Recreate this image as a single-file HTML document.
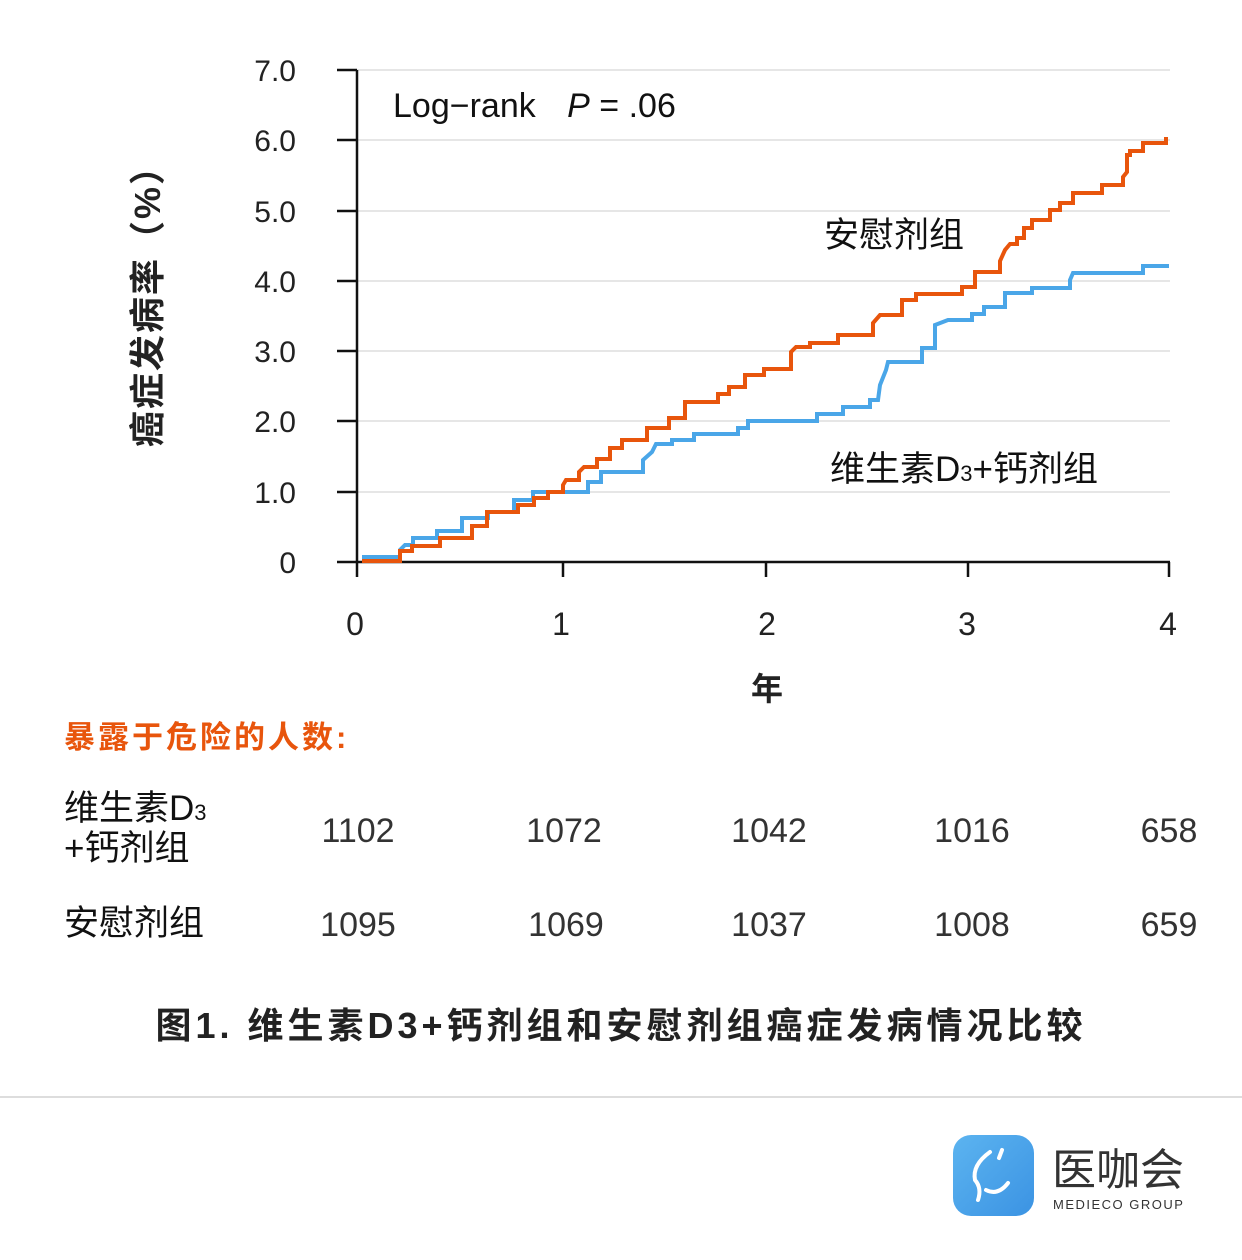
<!DOCTYPE html>
<html><head><meta charset="utf-8"><style>
html,body{margin:0;padding:0;background:#fff;width:1242px;height:1260px;overflow:hidden}
svg text{font-family:"Liberation Sans","Noto Sans CJK SC",sans-serif}
</style></head><body>
<svg width="1242" height="1260" viewBox="0 0 1242 1260" xmlns="http://www.w3.org/2000/svg">
<g stroke="#e6e6e6" stroke-width="2">
<line x1="357" y1="70" x2="1170" y2="70"/><line x1="357" y1="140" x2="1170" y2="140"/>
<line x1="357" y1="211" x2="1170" y2="211"/><line x1="357" y1="281" x2="1170" y2="281"/>
<line x1="357" y1="351" x2="1170" y2="351"/><line x1="357" y1="421" x2="1170" y2="421"/>
<line x1="357" y1="492" x2="1170" y2="492"/>
</g>
<g stroke="#111" stroke-width="2.5" fill="none">
<line x1="357" y1="70" x2="357" y2="577"/>
<line x1="337" y1="562" x2="1170" y2="562"/>
<line x1="337" y1="70" x2="357" y2="70"/><line x1="337" y1="140" x2="357" y2="140"/>
<line x1="337" y1="211" x2="357" y2="211"/><line x1="337" y1="281" x2="357" y2="281"/>
<line x1="337" y1="351" x2="357" y2="351"/><line x1="337" y1="421" x2="357" y2="421"/>
<line x1="337" y1="492" x2="357" y2="492"/>
<line x1="563" y1="562" x2="563" y2="577"/><line x1="766" y1="562" x2="766" y2="577"/>
<line x1="968" y1="562" x2="968" y2="577"/><line x1="1169" y1="562" x2="1169" y2="577"/>
</g>
<g font-size="30" fill="#222" text-anchor="end">
<text x="296" y="81">7.0</text><text x="296" y="151">6.0</text><text x="296" y="222">5.0</text>
<text x="296" y="292">4.0</text><text x="296" y="362">3.0</text><text x="296" y="432">2.0</text>
<text x="296" y="503">1.0</text><text x="296" y="573">0</text>
</g>
<g font-size="32" fill="#222" text-anchor="middle">
<text x="355" y="635">0</text><text x="561" y="635">1</text><text x="767" y="635">2</text>
<text x="967" y="635">3</text><text x="1168" y="635">4</text>
</g>
<text x="767" y="700" font-size="32" font-weight="bold" text-anchor="middle" fill="#222">年</text>
<text transform="translate(160,297) rotate(-90)" font-size="36" font-weight="bold" text-anchor="middle" fill="#222" letter-spacing="2">癌症发病率（%）</text>
<text x="393" y="117" font-size="34" fill="#111">Log−rank <tspan dx="22" font-style="italic">P</tspan> = .06</text>
<text x="824" y="247" font-size="35" fill="#111">安慰剂组</text>
<text x="830" y="481" font-size="35" fill="#111">维生素D<tspan font-size="22">3</tspan>+钙剂组</text>
<path fill="none" stroke="#4aa6e8" stroke-width="4" d="M362 557H400V550L405 545H413V538H437V531H462V518H488V512H514V500H533V492H588V482H601V472H643V460L652 452L656 444H672V440H694V434H738V428H748V421H817V414H843V407H870V400H878L880 385L886 370L888 362H922V348H935V325L948 320H972V314H984V307H1005V293H1032V288H1070V280L1073 273H1143V266H1169"/>
<path fill="none" stroke="#e8550c" stroke-width="4" d="M362 561H400V551H412V546H440V538H472V526H487V512H518V505H534V498H548V492H563V485L566 480H579V472L584 467H597V459H610V448H622V440H647V428H669V418H685V402H718V394H729V387H745V375H764V369H791V352L796 347H810V343H838V335H873V323L880 315H902V300H916V294H962V287H975V272H1000V261L1005 250L1010 244H1017V238H1024V228H1032V220H1050V210H1060V203H1073V193H1102V185H1123V177L1127 172V155H1130V151H1143V143H1166V137"/>
<text x="64" y="748" font-size="31" font-weight="bold" fill="#e8550c" letter-spacing="3">暴露于危险的人数:</text>
<g font-size="35" fill="#111">
<text x="64" y="820">维生素D<tspan font-size="22">3</tspan></text>
<text x="64" y="860">+钙剂组</text>
<text x="64" y="935">安慰剂组</text>
</g>
<g font-size="34" fill="#333" text-anchor="middle">
<text x="358" y="842">1102</text><text x="564" y="842">1072</text><text x="769" y="842">1042</text><text x="972" y="842">1016</text><text x="1169" y="842">658</text>
<text x="358" y="936">1095</text><text x="566" y="936">1069</text><text x="769" y="936">1037</text><text x="972" y="936">1008</text><text x="1169" y="936">659</text>
</g>
<text x="621" y="1038" font-size="36" font-weight="bold" text-anchor="middle" fill="#222" letter-spacing="4">图1. 维生素D3+钙剂组和安慰剂组癌症发病情况比较</text>
<line x1="0" y1="1097" x2="1242" y2="1097" stroke="#ddd" stroke-width="2"/>
<defs><linearGradient id="g" x1="0" y1="0" x2="1" y2="1"><stop offset="0" stop-color="#5cb4f0"/><stop offset="1" stop-color="#3b93e3"/></linearGradient></defs>
<rect x="953" y="1135" width="81" height="81" rx="18" fill="url(#g)"/>
<path d="M990 1152Q972 1165 975 1180Q982 1188 978 1200M1002 1150l-3 8M986 1190Q998 1196 1008 1183" stroke="#fff" stroke-width="4" fill="none" stroke-linecap="round"/>
<text x="1052" y="1185" font-size="44" fill="#333">医咖会</text>
<text x="1053" y="1209" font-size="13" fill="#333" letter-spacing="1.5">MEDIECO  GROUP</text>
</svg>
</body></html>
